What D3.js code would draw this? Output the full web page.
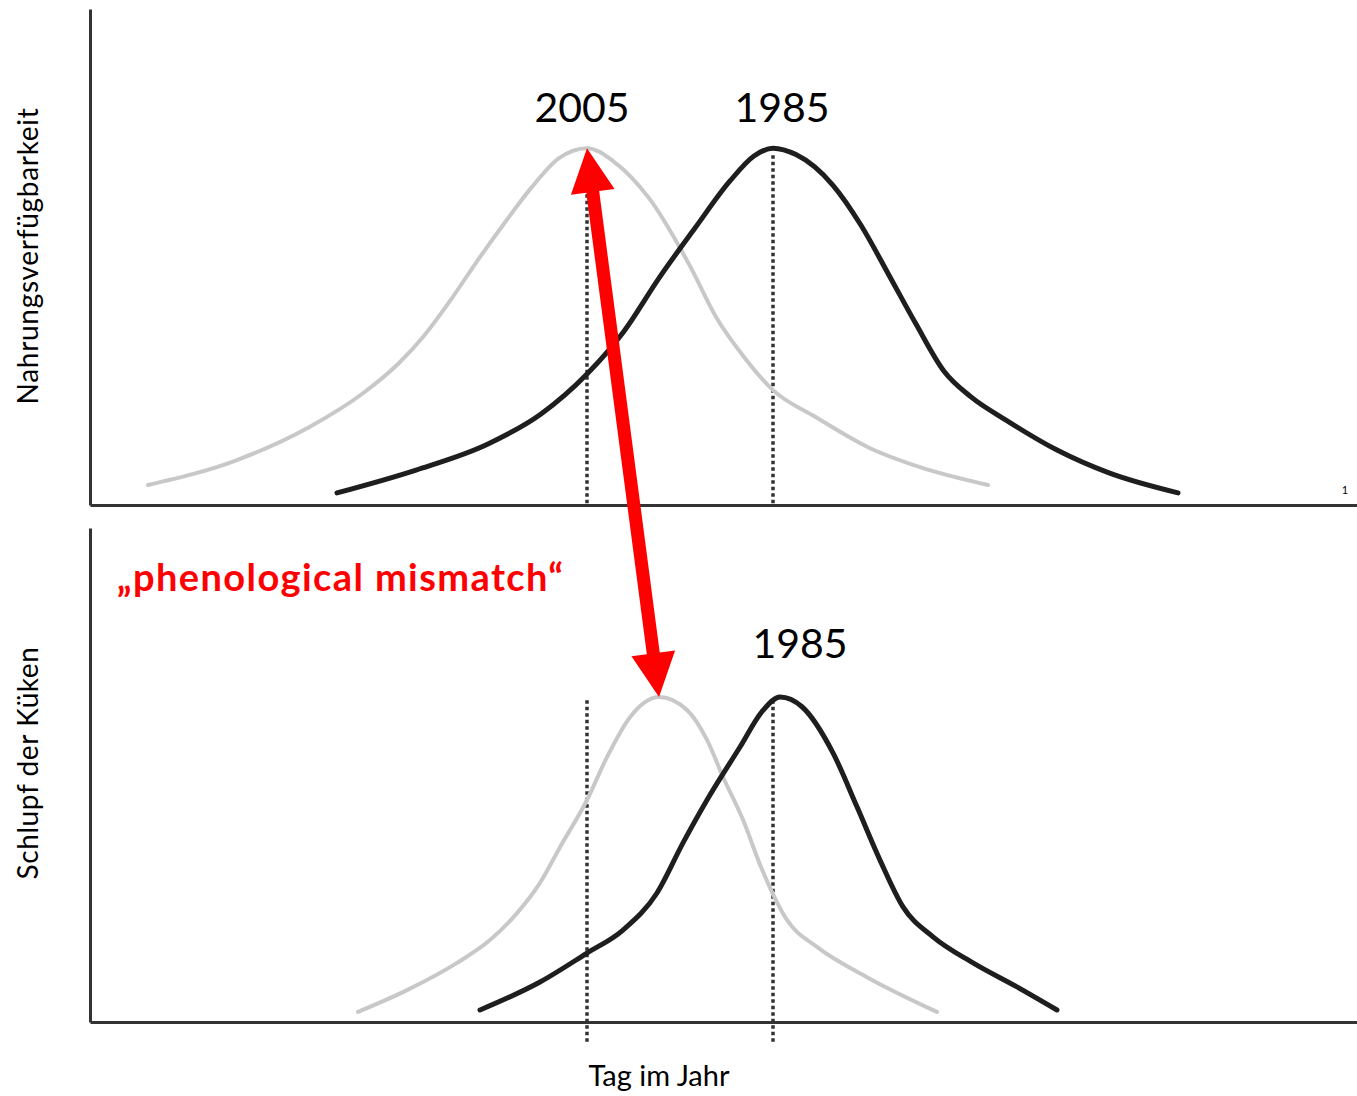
<!DOCTYPE html>
<html>
<head>
<meta charset="utf-8">
<script src="https://cdn.jsdelivr.net/npm/d3@7"></script>
<style>
  html, body { margin: 0; padding: 0; background: #fff; }
  svg { display: block; font-family: Lato, "Open Sans", sans-serif; }
</style>
</head>
<body>
<div id="chart"></div>
<script>
// x: day offset from the y axis (relative units), v: share of peak in %
const food2005 = [
  [58, 5.6], [147, 12.6], [219, 21.8], [272, 31.1], [308, 39.5], [333, 47.1],
  [362, 58.0], [387, 68.3], [416, 79.6], [441, 88.8], [469, 97.2], [497, 100],
  [523, 96.4], [559, 86.0], [599, 67.5], [626, 52.7], [654, 41.5], [683, 32.2],
  [726, 24.6], [778, 16.2], [830, 10.6], [898, 5.6]
];
const food1985 = [
  [247, 3.4], [326, 9.8], [398, 17.1], [451, 25.5], [497, 36.7], [534, 48.7],
  [569, 63.6], [605, 77.6], [640, 90.8], [664, 97.8], [683, 100], [706, 98.2],
  [743, 89.6], [771, 78.4], [799, 64.4], [826, 50.7], [854, 37.5], [881, 30.3],
  [916, 23.8], [967, 15.4], [1019, 9.0], [1088, 3.4]
];
const hatch2005 = [
  [268, 3.1], [317, 9.8], [367, 18.2], [400, 25.2], [427, 33.5], [450, 42.8],
  [470, 53.8], [497, 68.3], [517, 81.5], [540, 93.8], [569, 100], [597, 96.0],
  [617, 86.8], [633, 75.4], [653, 62.2], [671, 47.7], [697, 31.4], [727, 23.1],
  [777, 13.8], [847, 3.1]
];
const hatch1985 = [
  [390, 3.7], [450, 12.3], [497, 21.2], [533, 28.3], [567, 39.7], [593, 55.1],
  [617, 68.3], [650, 84.6], [672, 95.5], [690, 100], [712, 97.0],
  [743, 82.8], [767, 66.2], [790, 49.8], [813, 35.4], [843, 26.2], [883, 18.2],
  [927, 10.8], [967, 3.7]
];
const peakDays = [497, 683];          // dotted markers (food peaks)
const yearLabelsTop = [{ text: "2005", day: 492 }, { text: "1985", day: 692 }];
const yearLabelsBottom = [{ text: "1985", day: 710 }];

const width = 1357, height = 1096;
const svg = d3.select("#chart").append("svg")
  .attr("width", width).attr("height", height);

const x = d3.scaleLinear().domain([0, 1267]).range([90, 1357]);
const yTop = d3.scaleLinear().domain([0, 139]).range([505, 9]);
const yBot = d3.scaleLinear().domain([0, 152]).range([1022, 528]);

function drawAxes(y) {
  const gx = svg.append("g")
    .attr("transform", `translate(0,${y(0)})`)
    .call(d3.axisBottom(x).tickValues([]).tickSizeOuter(0));
  const gy = svg.append("g")
    .attr("transform", `translate(${x(0)},0)`)
    .call(d3.axisLeft(y).tickValues([]).tickSizeOuter(0));
  [gx, gy].forEach(g => g.select(".domain")
    .attr("stroke", "#333").attr("stroke-width", 3));
}

function drawCurve(data, y, color, w) {
  const line = d3.line()
    .x(d => x(d[0])).y(d => y(d[1]))
    .curve(d3.curveMonotoneX);
  svg.append("path")
    .datum(data)
    .attr("d", line)
    .attr("fill", "none")
    .attr("stroke", color)
    .attr("stroke-width", w)
    .attr("stroke-linecap", "round");
}

function drawDots(y, from, to) {
  svg.append("g").selectAll("line")
    .data(peakDays)
    .enter()
    .append("line")
    .attr("x1", d => x(d)).attr("x2", d => x(d))
    .attr("y1", y(from)).attr("y2", y(to))
    .attr("stroke", "#333")
    .attr("stroke-width", 3.5)
    .attr("stroke-dasharray", "3.5,3");
}

// top panel: food availability
drawAxes(yTop);
drawDots(yTop, 98, 0);
drawCurve(food2005, yTop, "#c8c8c8", 4);
drawCurve(food1985, yTop, "#1e1e1e", 5);

// bottom panel: hatching
drawAxes(yBot);
drawDots(yBot, 99, -7);
drawCurve(hatch2005, yBot, "#c8c8c8", 4);
drawCurve(hatch1985, yBot, "#1e1e1e", 5);

// double arrow between the two 2005 peaks
const peakFood = food2005.find(d => d[1] === 100);
const peakHatch = hatch2005.find(d => d[1] === 100);
const p0 = [x(peakFood[0]), yTop(peakFood[1])];
const p1 = [x(peakHatch[0]), yBot(peakHatch[1])];
const dx = p1[0] - p0[0], dy = p1[1] - p0[1];
const len = Math.hypot(dx, dy);
const ux = dx / len, uy = dy / len, nx = -uy, ny = ux;
const headL = 44, headW = 22, shaftW = 6.5;
const pt = (t, s) => [p0[0] + ux * t + nx * s, p0[1] + uy * t + ny * s];
const arrowPts = [
  pt(0, 0), pt(headL, headW), pt(headL, shaftW),
  pt(len - headL, shaftW), pt(len - headL, headW), pt(len, 0),
  pt(len - headL, -headW), pt(len - headL, -shaftW),
  pt(headL, -shaftW), pt(headL, -headW)
];
svg.append("polygon")
  .attr("points", arrowPts.map(p => p.join(",")).join(" "))
  .attr("fill", "#ff0000");

// labels
svg.append("g").selectAll("text")
  .data(yearLabelsTop)
  .enter()
  .append("text")
  .attr("x", d => x(d.day))
  .attr("y", 122)
  .attr("text-anchor", "middle")
  .style("font-size", "41px")
  .attr("fill", "#000")
  .text(d => d.text);

svg.append("g").selectAll("text")
  .data(yearLabelsBottom)
  .enter()
  .append("text")
  .attr("x", d => x(d.day))
  .attr("y", 658)
  .attr("text-anchor", "middle")
  .style("font-size", "41px")
  .attr("fill", "#000")
  .text(d => d.text);

svg.append("text")
  .attr("x", 117)
  .attr("y", 591)
  .style("font-size", "38px")
  .style("font-weight", "bold")
  .style("letter-spacing", "1.4px")
  .attr("fill", "#ff0000")
  .text("\u201Ephenological mismatch\u201C");

svg.append("text")
  .attr("x", 659)
  .attr("y", 1086)
  .attr("text-anchor", "middle")
  .style("font-size", "29px")
  .text("Tag im Jahr");

svg.append("text")
  .attr("transform", "translate(38,256) rotate(-90)")
  .attr("text-anchor", "middle")
  .style("font-size", "28px")
  .style("letter-spacing", "0.7px")
  .text("Nahrungsverfügbarkeit");

svg.append("text")
  .attr("transform", "translate(38,763) rotate(-90)")
  .attr("text-anchor", "middle")
  .style("font-size", "28px")
  .style("letter-spacing", "0.6px")
  .text("Schlupf der Küken");

svg.append("text")
  .attr("x", 1345)
  .attr("y", 494)
  .attr("text-anchor", "middle")
  .style("font-size", "11px")
  .text("1");
</script>
</body>
</html>
